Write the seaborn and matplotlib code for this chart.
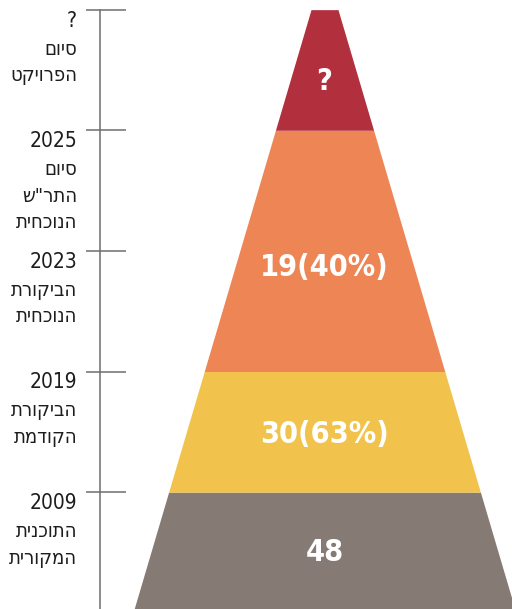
import matplotlib
matplotlib.use("Agg")
import matplotlib.pyplot as plt
import numpy as np
import pandas as pd
import seaborn as sns

# ---- data ----
stages = ["2009", "2019", "2023", "2025", "?"]
stage_captions = [
    "התוכנית\nהמקורית",
    "הביקורת\nהקודמת",
    "הביקורת\nהנוכחית",
    "סיום\nהתר\"ש\nהנוכחית",
    "סיום\nהפרויקט",
]
band_values = ["48", "30", "19", "?"]
band_shares = ["", "63%", "40%", ""]
band_from = [None, "2009", "2019", "2025"]
band_to = ["2009", "2019", "2025", "?"]
band_colors = ["#857B74", "#F1C34D", "#EE8555", "#B2303E"]

sns.set_theme(style="white")
plt.rcParams["font.family"] = ["DejaVu Sans"]

palette = sns.color_palette(band_colors)


def rtl(s):
    # matplotlib lays text out left-to-right; reverse each Hebrew line for display
    return "\n".join(line[::-1] for line in s.split("\n"))


fig = plt.figure(figsize=(5.12, 6.09), dpi=100)
ax = fig.add_axes([0, 0, 1, 1])
ax.set_xlim(0, 512)
ax.set_ylim(-0.969, 4.08)
ax.set_axis_off()

pos = {s: i for i, s in enumerate(stages)}
CX = 324.5
TOP_HALF = 13.5
SLOPE = 35.6


def half(y):
    return TOP_HALF + SLOPE * (pos[stages[-1]] - y)


y_bottom = ax.get_ylim()[0]
for val, share, lo, hi, col in zip(band_values, band_shares, band_from, band_to, palette):
    y0 = y_bottom - 0.2 if lo is None else pos[lo]
    y1 = pos[hi]
    ys = np.array([y0, y1])
    ax.fill_betweenx(ys, CX - half(ys), CX + half(ys), color=col, lw=0)
    v0 = max(y0, y_bottom)
    a, b = half(y1), half(v0)
    yc = v0 + (y1 - v0) * (b + 2 * a) / (3 * (a + b))
    text = val if not share else f"{val}({share})"
    ax.text(CX, yc, text, ha="center", va="center", color="white",
            fontsize=22, fontweight="bold", fontstretch="condensed")

# timeline axis
line_col = "#6E6E6E"
ax.plot([100, 100], [pos[stages[-1]], y_bottom - 0.2], color=line_col, lw=1.1)
ax.hlines([pos[s] for s in stages], 86, 126, color=line_col, lw=1.1)

txt_col = "#1E1C1C"
for s, cap in zip(stages, stage_captions):
    ax.annotate(s, (77, pos[s]), xytext=(0, -0.7), textcoords="offset points",
                ha="right", va="top", fontsize=15, color=txt_col,
                fontstretch="condensed")
    ax.annotate(rtl(cap), (77, pos[s]), xytext=(0, -21.5), textcoords="offset points",
                ha="right", va="top", multialignment="right", fontsize=14.5,
                linespacing=1.51, color=txt_col, fontstretch="condensed")

fig.savefig("out.png", dpi=100)
